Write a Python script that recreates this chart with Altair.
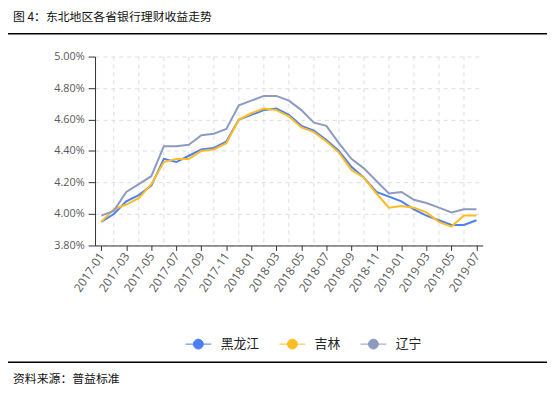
import altair as alt
import pandas as pd

months = [
    "2017-01", "2017-02", "2017-03", "2017-04", "2017-05", "2017-06", "2017-07", "2017-08",
    "2017-09", "2017-10", "2017-11", "2017-12", "2018-01", "2018-02", "2018-03", "2018-04",
    "2018-05", "2018-06", "2018-07", "2018-08", "2018-09", "2018-10", "2018-11", "2018-12",
    "2019-01", "2019-02", "2019-03", "2019-04", "2019-05", "2019-06", "2019-07",
]
heilongjiang = [3.95, 4.00, 4.08, 4.12, 4.18, 4.35, 4.33, 4.37, 4.41, 4.42, 4.46, 4.60,
                4.63, 4.66, 4.67, 4.63, 4.56, 4.53, 4.47, 4.40, 4.30, 4.23, 4.14, 4.11,
                4.08, 4.03, 3.99, 3.96, 3.93, 3.93, 3.96]
jilin = [3.95, 4.03, 4.06, 4.10, 4.19, 4.33, 4.35, 4.35, 4.40, 4.41, 4.45, 4.60,
         4.64, 4.67, 4.66, 4.62, 4.55, 4.52, 4.46, 4.39, 4.28, 4.23, 4.13, 4.04,
         4.05, 4.04, 4.01, 3.95, 3.92, 3.99, 3.99]
liaoning = [3.99, 4.02, 4.14, 4.19, 4.24, 4.43, 4.43, 4.44, 4.50, 4.51, 4.54, 4.69,
            4.72, 4.75, 4.75, 4.72, 4.66, 4.58, 4.56, 4.45, 4.35, 4.29, 4.21, 4.13,
            4.14, 4.09, 4.07, 4.04, 4.01, 4.03, 4.03]
provinces = ["黑龙江", "吉林", "辽宁"]
colors = ["#4d7ef2", "#fbbd23", "#8e9bc0"]
y_ticks = [3.8, 4.0, 4.2, 4.4, 4.6, 4.8, 5.0]
label_months = months[0::2]
grid_months = months[1::2]
title_text = ["图 4：东北地区各省银行理财收益走势"]
source_text = ["资料来源：普益标准"]

rows = []
for name, vals in zip(provinces, [heilongjiang, jilin, liaoning]):
    for m, v in zip(months, vals):
        rows.append({"month": m, "province": name, "value": v})
df = pd.DataFrame(rows)

PLOT_W, PLOT_H = 392, 191
PAD_L, PAD_T = 88, 47
TOTAL_W, TOTAL_H = 545, 380

cjk = "Noto Sans CJK SC"
latin = "Open Sans"

xscale = alt.Scale(type="point", domain=months, padding=0.5)
xaxis = alt.Axis(values=label_months, labelAngle=-56, labelFontSize=12, labelFont=latin,
                 labelColor="#595959", tickSize=5, tickColor="#333333",
                 domainColor="#333333", grid=False, title=None, labelOverlap=False,
                 labelPadding=3)

grid = alt.Chart(pd.DataFrame({"month": grid_months})).mark_rule(
    color="#dddddd", strokeDash=[4, 4], strokeWidth=1
).encode(x=alt.X("month:N", scale=xscale, axis=xaxis))

symbol_path = "M-2.6,0L2.6,0M1,0A1,1,0,1,1,-1,0A1,1,0,1,1,1,0Z"

lines = alt.Chart(df).mark_line(strokeWidth=2).encode(
    x=alt.X("month:N", scale=xscale, axis=xaxis),
    y=alt.Y("value:Q",
            scale=alt.Scale(domain=[3.8, 5.0], nice=False, zero=False),
            axis=alt.Axis(values=y_ticks, labelExpr="format(datum.value, '.2f') + '%'",
                          labelFontSize=11, labelFont=latin, labelColor="#595959",
                          tickSize=7, tickColor="#333333", domainColor="#333333",
                          labelPadding=4, grid=True, gridDash=[4, 4], gridColor="#dddddd",
                          title=None)),
    color=alt.Color("province:N",
                    scale=alt.Scale(domain=provinces, range=colors),
                    legend=alt.Legend(orient="none", legendX=98, legendY=284,
                                      direction="horizontal", title=None,
                                      symbolType=symbol_path, symbolSize=100,
                                      symbolStrokeWidth=1,
                                      symbolFillColor=alt.ExprRef(expr="scale('color', datum.value)"),
                                      labelFont=cjk, labelFontSize=13, labelColor="#222222",
                                      labelOffset=16, columnPadding=17, padding=0)),
    order=alt.Order("province:N"),
)

title_mark = alt.Chart(pd.DataFrame({"t": title_text})).mark_text(
    align="left", baseline="middle", font=cjk, fontSize=12, color="#111111"
).encode(text="t:N", x=alt.value(-83), y=alt.value(-40))

source_mark = alt.Chart(pd.DataFrame({"t": source_text})).mark_text(
    align="left", baseline="middle", font=cjk, fontSize=12, color="#111111"
).encode(text="t:N", x=alt.value(-83), y=alt.value(326))

top_rule = alt.Chart(pd.DataFrame({"k": [0]})).mark_rule(color="#000000", strokeWidth=1.5).encode(
    x=alt.value(-88), x2=alt.value(460), y=alt.value(-23))
bottom_rule = alt.Chart(pd.DataFrame({"k": [0]})).mark_rule(color="#000000", strokeWidth=1.5).encode(
    x=alt.value(-88), x2=alt.value(460), y=alt.value(309))

chart = alt.layer(grid, lines, title_mark, source_mark, top_rule, bottom_rule).properties(
    width=PLOT_W, height=PLOT_H,
    autosize=alt.AutoSizeParams(type="none"),
    padding={"left": PAD_L, "top": PAD_T, "right": TOTAL_W - PAD_L - PLOT_W,
             "bottom": TOTAL_H - PAD_T - PLOT_H},
).configure_view(stroke=None)

chart.save("out.html", embed_options={"renderer": "svg", "actions": False})
